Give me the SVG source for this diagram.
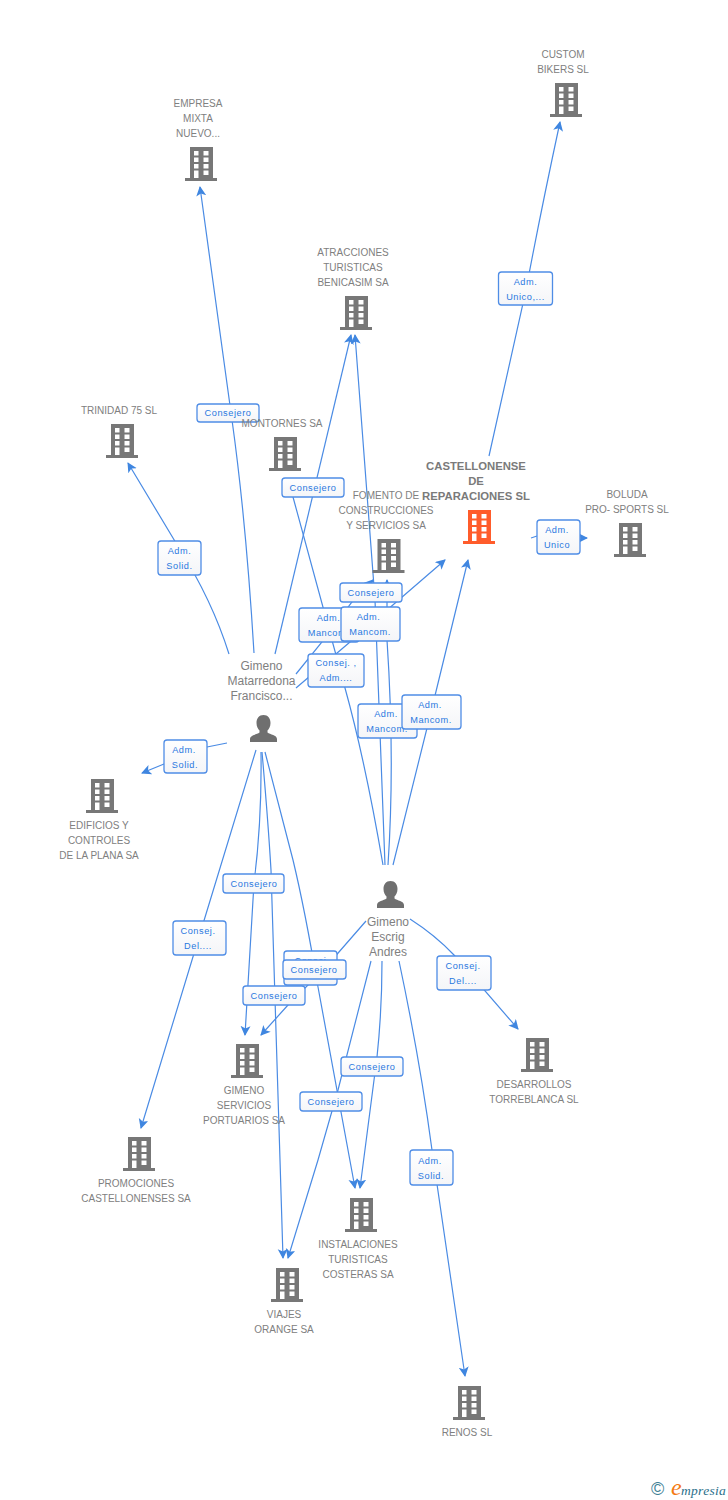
<svg xmlns="http://www.w3.org/2000/svg" xmlns:xlink="http://www.w3.org/1999/xlink" width="728" height="1500" viewBox="0 0 728 1500">
<style>
text{font-family:"Liberation Sans",Arial,sans-serif}
.n{font-size:10px;fill:#808080;text-anchor:middle}
.p{font-size:12px;fill:#808080;text-anchor:middle}
.b{font-size:11.3px;font-weight:bold;fill:#7a7a7a;text-anchor:middle}
.l{font-size:9.2px;letter-spacing:.55px;fill:#2a78e0;text-anchor:middle}
.box{fill:url(#g);stroke:#4f8de6;stroke-width:1.3}
.c{fill:none;stroke:#4a8be4;stroke-width:1.2;marker-end:url(#a)}
.o{fill:none;stroke:#4a8be4;stroke-width:1.2}
</style>
<defs>
<linearGradient id="g" x1="0" y1="0" x2="0" y2="1"><stop offset="0" stop-color="#fff"/><stop offset="1" stop-color="#f4f5f8"/></linearGradient>
<marker id="a" markerUnits="userSpaceOnUse" markerWidth="12" markerHeight="12" refX="9" refY="5" orient="auto"><path d="M0 0L10 5L0 10L2.500 5Z" fill="#3f86e0"/></marker>
<symbol id="bld" overflow="visible"><path d="M5 0H28V31H32V34H0V31H5ZM9 4V8.500H13.500V4ZM18.500 4V8.500H23.500V4ZM9 10.500V15H13.500V10.500ZM18.500 10.500V15H23.500V10.500ZM9 17V21.500H13.500V17ZM18.500 17V21.500H23.500V17ZM9 23.500V31H13.500V23.500ZM18.500 23.500V28H23.500V23.500Z" fill-rule="evenodd"/></symbol>
<symbol id="psn" overflow="visible"><path d="M13.500 0C18 0 20.500 3.500 20.500 8C20.500 11.500 19 14 17.500 15.500V17.500C20 19.500 27 20 27 24V27H0V24C0 20 7 19.500 9.500 17.500V15.500C8 14 6.500 11.500 6.500 8C6.500 3.500 9 0 13.500 0Z"/></symbol>
</defs>
<g id="connectors">
<path class="c" d="M489 456L526 290Q540 215 560 122"/>
<path class="c" d="M254 653Q246 520 232 420L200 187"/>
<path class="c" d="M229 654Q212 600 179 548L128 463"/>
<path class="c" d="M275 654L351 335"/>
<path class="c" d="M296 674L322 642L352 602L373 580"/>
<path class="c" d="M296 688L350 642L445 560"/>
<path class="o" d="M383 865Q365 760 345 688L293 497L290 487"/>
<path class="c" d="M385 865L375 600L355 335"/>
<path class="c" d="M388 865Q395 760 387 640L387 580"/>
<path class="c" d="M393 865L431 712L468 560"/>
<path class="o" d="M531 538L537 536"/>
<path class="c" d="M580 538L587 538"/>
<path class="c" d="M227 743L207 747L164 764L142 773"/>
<path class="c" d="M256 750L199 937L141 1128"/>
<path class="c" d="M261 752Q262 820 254 883L245 1035"/>
<path class="c" d="M262 752Q268 820 271 870L280 1160L283 1258"/>
<path class="c" d="M265 752Q280 810 293 860Q305 910 318 987L355 1188"/>
<path class="c" d="M366 921L332 960L313 980L288 1005L261 1035"/>
<path class="c" d="M371 961L338 1090L318 1160L288 1258"/>
<path class="c" d="M382 961Q382 1010 377 1057L360 1188"/>
<path class="c" d="M399 961Q420 1060 432 1150L465 1376"/>
<path class="c" d="M410 919Q435 935 454 955L518 1029"/>
</g>
<g id="edge-labels">
<g><rect class="box" x="498.500" y="272" width="54" height="33" rx="3"/><text class="l" x="525.500" y="285">Adm.</text><text class="l" x="525.500" y="300">Unico,...</text></g>
<g><rect class="box" x="197" y="404" width="62" height="18" rx="3"/><text class="l" x="228" y="416">Consejero</text></g>
<g><rect class="box" x="282" y="478" width="62" height="19" rx="3"/><text class="l" x="313" y="491">Consejero</text></g>
<g><rect class="box" x="158" y="541" width="43" height="34" rx="3"/><text class="l" x="179.500" y="554">Adm.</text><text class="l" x="179.500" y="569">Solid.</text></g>
<g><rect class="box" x="537" y="520" width="43" height="34" rx="3"/><text class="l" x="557" y="533">Adm.</text><text class="l" x="557" y="548">Unico</text></g>
<g><rect class="box" x="299" y="608" width="60" height="34" rx="3"/><text class="l" x="328.500" y="621">Adm.</text><text class="l" x="328.500" y="636">Mancom.</text></g>
<g><rect class="box" x="340" y="583" width="62" height="19" rx="3"/><text class="l" x="371" y="596">Consejero</text></g>
<g><rect class="box" x="341" y="607" width="59" height="34" rx="3"/><text class="l" x="368.500" y="620">Adm.</text><text class="l" x="370" y="635">Mancom.</text></g>
<g><rect class="box" x="308" y="654" width="56" height="33" rx="3"/><text class="l" x="336" y="666">Consej. ,</text><text class="l" x="336" y="681">Adm....</text></g>
<g><rect class="box" x="358" y="704" width="59" height="34" rx="3"/><text class="l" x="386" y="717">Adm.</text><text class="l" x="387" y="732">Mancom.</text></g>
<g><rect class="box" x="402" y="695" width="59" height="34" rx="3"/><text class="l" x="430" y="708">Adm.</text><text class="l" x="431" y="723">Mancom.</text></g>
<g><rect class="box" x="164" y="740" width="43" height="33" rx="3"/><text class="l" x="184" y="753">Adm.</text><text class="l" x="185" y="768">Solid.</text></g>
<g><rect class="box" x="223" y="874" width="61" height="19" rx="3"/><text class="l" x="254" y="887">Consejero</text></g>
<g><rect class="box" x="173" y="921" width="53" height="34" rx="3"/><text class="l" x="198" y="934">Consej.</text><text class="l" x="198" y="949">Del....</text></g>
<g><rect class="box" x="284" y="951" width="53" height="34" rx="3"/><text class="l" x="312" y="964">Consej.</text></g>
<g><rect class="box" x="283" y="960" width="63" height="19" rx="3"/><text class="l" x="314" y="973">Consejero</text></g>
<g><rect class="box" x="243" y="986" width="62" height="19" rx="3"/><text class="l" x="274" y="999">Consejero</text></g>
<g><rect class="box" x="437" y="956" width="54" height="34" rx="3"/><text class="l" x="463" y="969">Consej.</text><text class="l" x="463" y="984">Del....</text></g>
<g><rect class="box" x="341" y="1057" width="62" height="19" rx="3"/><text class="l" x="372" y="1070">Consejero</text></g>
<g><rect class="box" x="300" y="1092" width="62" height="19" rx="3"/><text class="l" x="331" y="1105">Consejero</text></g>
<g><rect class="box" x="410" y="1150" width="43" height="35" rx="3"/><text class="l" x="430" y="1164">Adm.</text><text class="l" x="431" y="1179">Solid.</text></g>
</g>
<g id="n-custom"><use xlink:href="#bld" href="#bld" x="550" y="83" fill="#777"/><text class="n" x="563" y="58">CUSTOM</text><text class="n" x="563" y="73">BIKERS SL</text></g>
<g id="n-empresa"><use xlink:href="#bld" href="#bld" x="185" y="147" fill="#777"/><text class="n" x="198" y="107">EMPRESA</text><text class="n" x="198" y="122">MIXTA</text><text class="n" x="198" y="137">NUEVO...</text></g>
<g id="n-atracciones"><use xlink:href="#bld" href="#bld" x="340" y="296" fill="#777"/><text class="n" x="353" y="256">ATRACCIONES</text><text class="n" x="353" y="271">TURISTICAS</text><text class="n" x="353" y="286">BENICASIM SA</text></g>
<g id="n-trinidad"><use xlink:href="#bld" href="#bld" x="106" y="424" fill="#777"/><text class="n" x="119" y="414">TRINIDAD 75 SL</text></g>
<g id="n-montornes"><use xlink:href="#bld" href="#bld" x="269" y="437" fill="#777"/><text class="n" x="282" y="427">MONTORNES SA</text></g>
<g id="n-fomento"><use xlink:href="#bld" href="#bld" x="372.500" y="539" fill="#777"/><text class="n" x="386" y="499">FOMENTO DE</text><text class="n" x="386" y="514">CONSTRUCCIONES</text><text class="n" x="386" y="529">Y SERVICIOS SA</text></g>
<g id="n-castellonense"><use xlink:href="#bld" href="#bld" x="463" y="510" fill="#ff5c2b"/><text class="b" x="476" y="470">CASTELLONENSE</text><text class="b" x="476" y="485">DE</text><text class="b" x="476" y="500">REPARACIONES SL</text></g>
<g id="n-boluda"><use xlink:href="#bld" href="#bld" x="614" y="523" fill="#777"/><text class="n" x="627" y="498">BOLUDA</text><text class="n" x="627" y="513">PRO- SPORTS SL</text></g>
<g id="n-edificios"><use xlink:href="#bld" href="#bld" x="86" y="779" fill="#777"/><text class="n" x="99" y="829">EDIFICIOS Y</text><text class="n" x="99" y="844">CONTROLES</text><text class="n" x="99" y="859">DE LA PLANA SA</text></g>
<g id="n-gimeno-servicios"><use xlink:href="#bld" href="#bld" x="231" y="1044" fill="#777"/><text class="n" x="244" y="1094">GIMENO</text><text class="n" x="244" y="1109">SERVICIOS</text><text class="n" x="244" y="1124">PORTUARIOS SA</text></g>
<g id="n-desarrollos"><use xlink:href="#bld" href="#bld" x="521" y="1038" fill="#777"/><text class="n" x="534" y="1088">DESARROLLOS</text><text class="n" x="534" y="1103">TORREBLANCA SL</text></g>
<g id="n-promociones"><use xlink:href="#bld" href="#bld" x="123" y="1137" fill="#777"/><text class="n" x="136" y="1187">PROMOCIONES</text><text class="n" x="136" y="1202">CASTELLONENSES SA</text></g>
<g id="n-instalaciones"><use xlink:href="#bld" href="#bld" x="345" y="1198" fill="#777"/><text class="n" x="358" y="1248">INSTALACIONES</text><text class="n" x="358" y="1263">TURISTICAS</text><text class="n" x="358" y="1278">COSTERAS SA</text></g>
<g id="n-viajes"><use xlink:href="#bld" href="#bld" x="271" y="1268" fill="#777"/><text class="n" x="284" y="1318">VIAJES</text><text class="n" x="284" y="1333">ORANGE SA</text></g>
<g id="n-renos"><use xlink:href="#bld" href="#bld" x="453" y="1386" fill="#777"/><text class="n" x="467" y="1436">RENOS SL</text></g>
<g id="n-matarredona"><use xlink:href="#psn" href="#psn" x="250" y="715" fill="#6f6f6f"/><text class="p" x="261.500" y="670">Gimeno</text><text class="p" x="261.500" y="685">Matarredona</text><text class="p" x="261.500" y="700">Francisco...</text></g>
<g id="n-escrig"><use xlink:href="#psn" href="#psn" x="377" y="881" fill="#6f6f6f"/><text class="p" x="388" y="926">Gimeno</text><text class="p" x="388" y="941">Escrig</text><text class="p" x="388" y="956">Andres</text></g>
<g id="logo"><text x="651" y="1495" style="font-size:18px;fill:#3f7f95">©</text><text x="671" y="1495" style="font-family:'Liberation Serif',serif;font-size:24px;font-style:italic;fill:#f47a12">e</text><text x="681" y="1495" style="font-family:'Liberation Serif',serif;font-size:13.5px;font-style:italic;letter-spacing:.3px;fill:#2b6f8a">mpresia</text></g>
</svg>
